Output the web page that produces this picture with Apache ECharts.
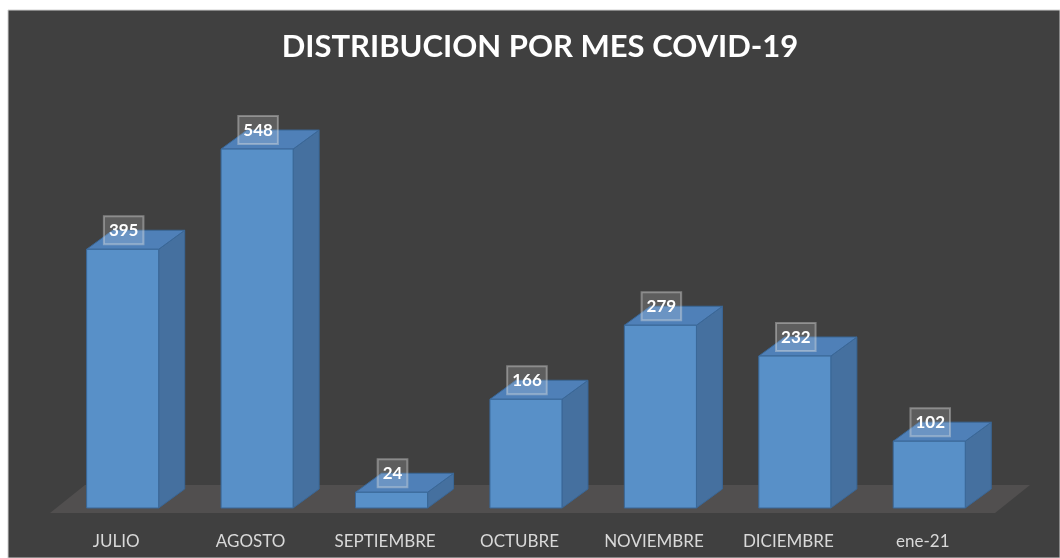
<!DOCTYPE html>
<html>
<head>
<meta charset="utf-8">
<script src="https://cdn.jsdelivr.net/npm/echarts@6/dist/echarts.min.js"></script>
<style>
  html, body { margin: 0; padding: 0; background: #ffffff; }
  #chart { width: 1060px; height: 558px; }
</style>
</head>
<body>
<div id="chart"></div>
<script>
// Monthly distribution of COVID-19 cases
const chartTitle = 'DISTRIBUCION POR MES COVID-19';
const months = ['JULIO', 'AGOSTO', 'SEPTIEMBRE', 'OCTUBRE', 'NOVIEMBRE', 'DICIEMBRE', 'ene-21'];
const cases = [395, 548, 24, 166, 279, 232, 102];

const FONT = 'Lato, "Open Sans", sans-serif';
const FRONT = '#5890c8';
const TOP = '#4f80b8';
const SIDE = '#45709f';
const EDGE = '#3a6797';
const DEPTH_X = 26;
const DEPTH_Y = -19;

const chart = echarts.init(document.getElementById('chart'), null, { renderer: 'canvas' });

// pseudo-3D column: front face, top face, right side face and a boxed value label
function renderBar(params, api) {
  const cat = api.value(0);
  const val = api.value(1);
  const top = api.coord([cat, val]);
  const base = api.coord([cat, 0]);
  const band = api.size([1, 0])[0];
  const w = band * 0.536;
  const cx = top[0] + band * 0.048;
  const x0 = cx - w / 2, x1 = cx + w / 2;
  const yT = top[1], yB = base[1];
  return {
    type: 'group',
    children: [
      { type: 'polygon', shape: { points: [[x1, yB], [x1 + DEPTH_X, yB + DEPTH_Y], [x1 + DEPTH_X, yT + DEPTH_Y], [x1, yT]] },
        style: { fill: SIDE, stroke: EDGE, lineWidth: 1 } },
      { type: 'polygon', shape: { points: [[x0, yT], [x1, yT], [x1 + DEPTH_X, yT + DEPTH_Y], [x0 + DEPTH_X, yT + DEPTH_Y]] },
        style: { fill: TOP, stroke: EDGE, lineWidth: 1 } },
      { type: 'rect', shape: { x: x0, y: yT, width: w, height: yB - yT },
        style: { fill: FRONT, stroke: EDGE, lineWidth: 1 } },
      { type: 'text', z2: 10,
        style: {
          text: String(val), x: cx + 1, y: yT - 19, align: 'center', verticalAlign: 'middle',
          fill: '#ffffff', font: 'bold 17px ' + FONT,
          backgroundColor: 'rgba(255,255,255,0.16)', borderColor: 'rgba(220,220,220,0.4)', borderWidth: 1,
          padding: [6, 5, 5, 5]
        } }
    ]
  };
}

// floor plane under the columns, spanning the category axis
function renderFloor(params, api) {
  const cs = params.coordSys;
  const yZero = api.coord([0, 0])[1];
  const fx0 = cs.x + 1, fx1 = cs.x + cs.width + 5;
  const fy = yZero + 5;
  const bx = 35, by = -28;
  return {
    type: 'polygon',
    shape: { points: [[fx0, fy], [fx1, fy], [fx1 + bx, fy + by], [fx0 + bx, fy + by]] },
    style: { fill: '#514f4f' }
  };
}

chart.setOption({
  backgroundColor: '#ffffff',
  animation: false,
  graphic: [{
    type: 'rect', z: -10, silent: true,
    shape: { x: 8, y: 10, width: 1052, height: 548 },
    style: { fill: '#404040', stroke: '#d0d0d0', lineWidth: 1 }
  }],
  title: {
    text: chartTitle,
    left: 535,
    textAlign: 'center',
    top: 26,
    textStyle: { color: '#ffffff', fontFamily: FONT, fontWeight: 'bold', fontSize: 31 }
  },
  grid: { left: 49, right: 70, top: 115, bottom: 50 },
  xAxis: {
    type: 'category',
    data: months,
    axisLine: { show: false },
    axisTick: { show: false },
    axisLabel: { color: '#d9d9d9', fontFamily: FONT, fontSize: 17, margin: 25 }
  },
  yAxis: { type: 'value', min: 0, max: 600, show: false, splitLine: { show: false } },
  series: [
    { type: 'custom', renderItem: renderFloor, data: [[0, 0]], z: 1, silent: true },
    { type: 'custom', renderItem: renderBar, data: cases.map((v, i) => [i, v]), z: 2 }
  ]
});
</script>
</body>
</html>
